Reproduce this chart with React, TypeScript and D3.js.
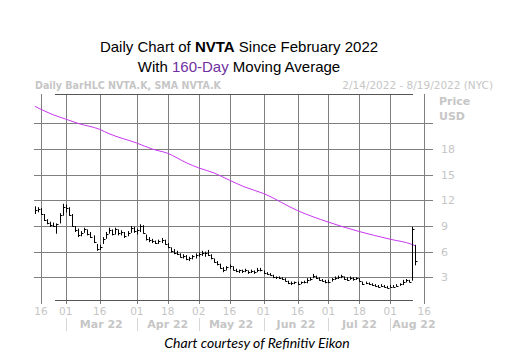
import React from "react";
import * as d3 from "d3";

// Trading days from 2/14/2022 (i = 0) onward
const highs = [11.3,11.2,11.1,10.4,9.8,9.5,9.4,9.3,10.5,11.6,11.5,11.2,10.4,9.0,8.7,8.4,8.8,8.6,8.3,7.9,6.9,6.8,7.7,8.3,8.8,8.6,8.8,8.6,8.5,8.3,8.4,9.0,8.9,8.7,9.2,9.1,8.0,7.7,7.5,7.3,7.4,7.6,7.4,7.0,6.5,6.3,6.1,5.8,5.7,5.6,5.4,5.6,5.8,5.9,6.1,6.0,6.2,5.7,5.2,4.9,4.6,4.2,4.3,4.5,4.3,4.0,3.9,3.9,4.0,3.8,3.9,3.8,4.1,4.1,3.8,3.6,3.5,3.3,3.1,3.1,3.0,2.9,2.6,2.5,2.5,2.5,2.5,2.6,2.9,3.0,3.4,3.2,3.0,2.8,2.7,2.7,2.9,3.1,3.2,3.3,3.1,3.0,3.1,3.0,3.0,2.9,2.5,2.5,2.4,2.3,2.2,2.1,2.2,2.1,2.0,2.1,2.1,2.2,2.3,2.7,2.8,2.7,8.9,6.8];
const lows = [10.4,10.6,10.3,9.6,9.2,8.9,8.9,8.1,9.3,10.2,10.6,10.2,8.9,8.3,7.7,7.8,8.2,7.9,7.6,7.0,6.1,6.2,6.9,7.5,8.1,7.9,8.0,7.9,7.9,7.6,7.8,8.2,8.2,8.0,8.3,8.1,7.3,7.1,7.0,6.9,6.9,7.0,6.8,6.4,5.9,5.7,5.6,5.3,5.2,5.0,4.9,5.1,5.2,5.4,5.5,5.4,5.5,5.1,4.7,4.4,4.0,3.6,3.8,4.0,3.8,3.6,3.5,3.5,3.6,3.4,3.5,3.4,3.6,3.7,3.4,3.3,3.2,2.9,2.8,2.8,2.7,2.5,2.2,2.1,2.2,2.1,2.2,2.3,2.3,2.6,2.9,2.8,2.6,2.5,2.3,2.3,2.5,2.7,2.8,2.9,2.7,2.6,2.7,2.6,2.7,2.5,2.1,2.2,2.1,2.0,1.9,1.8,1.9,1.8,1.7,1.8,1.8,1.9,2.0,2.1,2.4,2.4,2.6,4.4];
const closes = [10.9,11.0,10.4,9.7,9.4,9.1,9.0,9.2,10.3,11.2,11.1,10.3,9.0,8.5,7.9,8.2,8.6,8.1,7.7,7.1,6.3,6.6,7.5,8.1,8.5,8.1,8.6,8.2,8.3,7.8,8.2,8.8,8.4,8.5,9.0,8.2,7.5,7.4,7.2,7.0,7.2,7.4,6.9,6.5,6.1,5.9,5.7,5.4,5.5,5.1,5.2,5.5,5.6,5.7,5.9,5.8,5.6,5.2,4.8,4.5,4.1,3.9,4.2,4.3,3.9,3.7,3.8,3.7,3.8,3.6,3.7,3.6,3.9,3.8,3.5,3.4,3.3,3.0,3.0,2.9,2.8,2.6,2.3,2.3,2.4,2.2,2.4,2.4,2.7,2.8,3.2,2.9,2.7,2.6,2.5,2.5,2.8,2.9,3.0,3.1,2.8,2.7,2.9,2.8,2.9,2.6,2.2,2.3,2.2,2.1,2.0,1.9,2.0,1.9,1.8,1.9,1.9,2.0,2.2,2.5,2.7,2.5,8.6,4.9];

// 160-day SMA read at selected trading days
const maDays = [0,6,10,14,21,24,33,38,43,49,53,58,63,68,74,85,95,105,115,122,123];
const maValues = [23.0,22.0,21.5,21.0,20.3,19.8,18.7,18.0,17.5,16.4,15.8,15.2,14.35,13.55,12.8,10.8,9.45,8.35,7.45,6.85,6.7];

// x-axis ticks (trading-day index)
const dayTickIdx = [2,10,21,33,43,53,63,74,85,95,105,115,126];
const dayTickLabels = ["16","01","16","01","18","02","16","01","16","01","18","01","16"];
const monthStartIdx = [10,33,53,74,95,115];
const monthLabels = ["Mar 22","Apr 22","May 22","Jun 22","Jul 22","Aug 22"];

const priceGrid = [3,6,9,12,15,18,21];
const priceLabels = [3,6,9,12,15,18];

export default function App() {
  const W = 513, H = 363;
  const x = d3.scaleLinear().domain([2, 126]).range([41, 424.3]);
  const y = d3.scaleLinear().domain([3, 21]).range([277.3, 123.4]);
  const snap = (v: number) => Math.round(v) + 0.5;
  const gridColor = "#7f7f7f";
  const lightText = "#c6c6c6";
  const axisFont = "'DejaVu Sans', Verdana, sans-serif";

  const maLine = d3.line<number>()
    .x((_, k) => x(maDays[k]))
    .y((d) => y(d))
    .curve(d3.curveMonotoneX)(maValues) as string;

  const monthCenters = monthStartIdx.map((s, k) =>
    k < monthStartIdx.length - 1 ? (x(s) + x(monthStartIdx[k + 1])) / 2 : null
  );

  return (
    <svg width={W} height={H} style={{ position: "absolute", left: 0, top: 0, background: "#fff" }}>
      {/* Title */}
      <text x={239} y={52} textAnchor="middle" fontFamily="'Liberation Sans', Arial, sans-serif" fontSize={15} fill="#000">
        Daily Chart of <tspan fontWeight="bold">NVTA</tspan> Since February 2022
      </text>
      <text x={239} y={72} textAnchor="middle" fontFamily="'Liberation Sans', Arial, sans-serif" fontSize={15} fill="#000">
        With <tspan fill="#7030a0">160-Day</tspan> Moving Average
      </text>
      {/* Subtitle */}
      <text x={35} y={89} fontFamily={axisFont} fontSize={10.5} fontWeight="bold" fill={lightText} textLength={186} lengthAdjust="spacingAndGlyphs">
        Daily BarHLC NVTA.K, SMA NVTA.K
      </text>
      <text x={493} y={89} textAnchor="end" fontFamily={axisFont} fontSize={10.5} fill={lightText}>
        2/14/2022 - 8/19/2022 (NYC)
      </text>

      {/* Horizontal grid */}
      {priceGrid.map((p) => (
        <line key={"h" + p} x1={34} x2={433} y1={snap(y(p))} y2={snap(y(p))} stroke={gridColor} strokeWidth={1} />
      ))}
      {/* Vertical grid */}
      {dayTickIdx.map((d) => (
        <line key={"v" + d} x1={snap(x(d))} x2={snap(x(d))} y1={94} y2={304} stroke={gridColor} strokeWidth={1} />
      ))}
      {/* Frame lines */}
      <line x1={55} x2={413} y1={94.5} y2={94.5} stroke="#555" strokeWidth={1} />
      <line x1={55} x2={413} y1={300.5} y2={300.5} stroke="#555" strokeWidth={1} />

      {/* Price labels */}
      {priceLabels.map((p) => (
        <text key={"pl" + p} x={441} y={y(p) + 4} fontFamily={axisFont} fontSize={11} fill={lightText}>{p}</text>
      ))}
      <text x={439} y={105} fontFamily={axisFont} fontSize={11} fontWeight="bold" fill={lightText}>Price</text>
      <text x={439} y={120} fontFamily={axisFont} fontSize={11} fontWeight="bold" fill={lightText}>USD</text>

      {/* Moving average */}
      <path d={maLine} fill="none" stroke="#c837f2" strokeWidth={1} />

      {/* HLC bars */}
      {closes.map((c, i) => {
        const xi = snap(x(i));
        return (
          <g key={"b" + i} stroke="#000" strokeWidth={1}>
            <line x1={xi} x2={xi} y1={y(highs[i])} y2={y(lows[i])} />
            <line x1={xi} x2={xi + 2} y1={snap(y(c))} y2={snap(y(c))} />
          </g>
        );
      })}

      {/* Day labels */}
      {dayTickIdx.map((d, k) => (
        <text key={"dl" + k} x={x(d)} y={315} textAnchor="middle" fontFamily={axisFont} fontSize={10.5} fill={lightText}>
          {dayTickLabels[k]}
        </text>
      ))}
      {/* Month separators */}
      {monthStartIdx.map((s) => (
        <line key={"ms" + s} x1={snap(x(s))} x2={snap(x(s))} y1={318} y2={331} stroke="#d6d6d6" strokeWidth={1} />
      ))}
      {monthLabels.map((m, k) => (
        <text key={"ml" + k}
          x={monthCenters[k] ?? x(monthStartIdx[k]) + 2}
          y={328}
          textAnchor={monthCenters[k] ? "middle" : "start"}
          fontFamily={axisFont} fontSize={11} fontWeight="bold" fill={lightText}>
          {m}
        </text>
      ))}

      {/* Caption */}
      <text x={257} y={348} textAnchor="middle" fontFamily="Lato, 'Open Sans', sans-serif" fontStyle="italic" fontSize={14} fill="#000">
        Chart courtesy of Refinitiv Eikon
      </text>
    </svg>
  );
}
